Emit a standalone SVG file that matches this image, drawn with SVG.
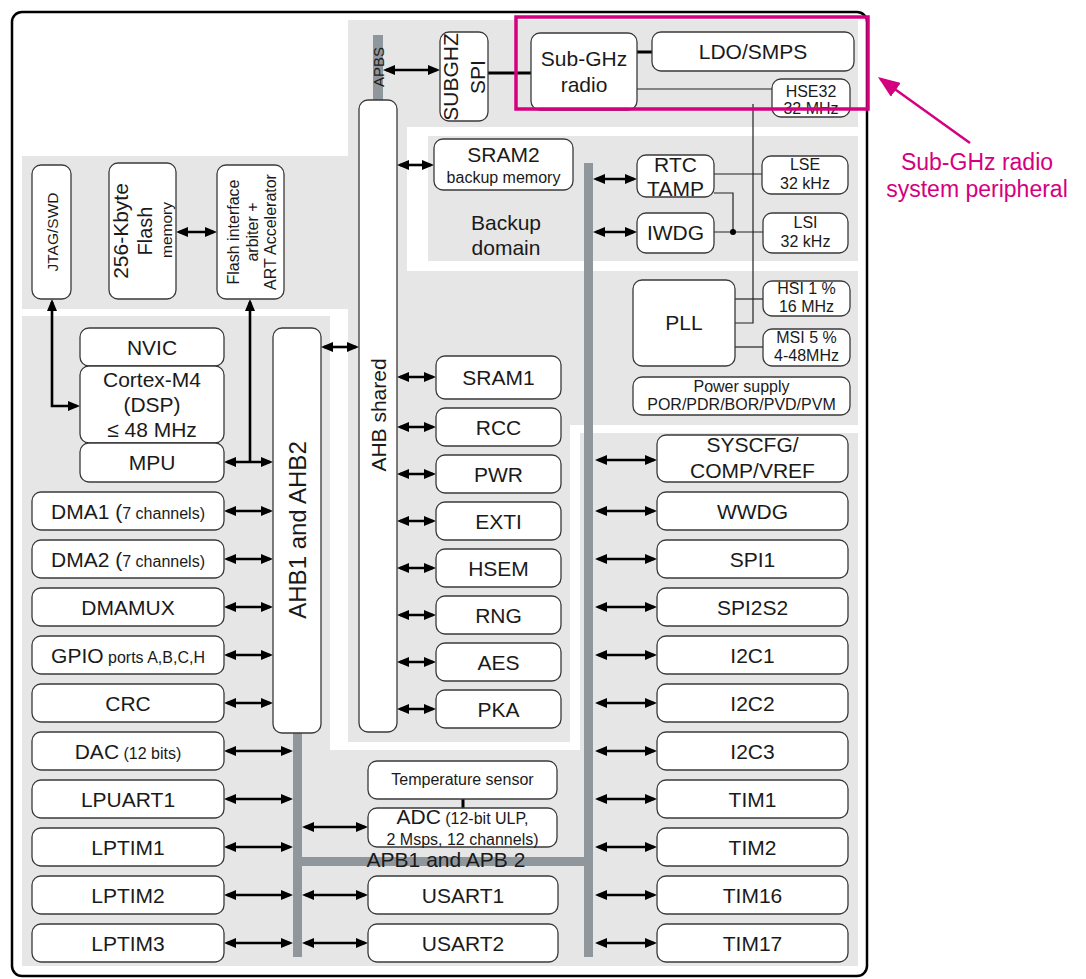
<svg xmlns="http://www.w3.org/2000/svg" width="1086" height="979" viewBox="0 0 1086 979">
<style>
.bg{fill:#e6e6e6}
.wh{fill:#ffffff}
.bus{fill:#8f979d}
.bx{fill:#ffffff;stroke:#3a3a3a;stroke-width:1.3}
text{font-family:"Liberation Sans",Arial,sans-serif;fill:#1a1a1a}
.t{font-size:21px;text-anchor:middle}
.s{font-size:16px;text-anchor:middle}
.da{fill:none;stroke:#000;stroke-width:2.6;marker-start:url(#ah);marker-end:url(#ah)}
.sa{fill:none;stroke:#000;stroke-width:2.6;marker-end:url(#ah)}
.tl{fill:none;stroke:#222;stroke-width:1.2}
.tk{fill:none;stroke:#000;stroke-width:3}
</style>
<defs>
<marker id="ah" markerUnits="userSpaceOnUse" markerWidth="12" markerHeight="10" viewBox="0 0 12 10" refX="9" refY="5" orient="auto-start-reverse">
<path d="M0,0 L12,5 L0,10 Z" fill="#000"/>
</marker>
<marker id="ph" markerUnits="userSpaceOnUse" markerWidth="22" markerHeight="17" viewBox="0 0 22 17" refX="19" refY="8.5" orient="auto">
<path d="M0,0 L22,8.5 L0,17 Z" fill="#d5007f"/>
</marker>
</defs>

<g id="background">
<rect class="bg" x="22" y="156" width="327" height="153"/>
<rect class="bg" x="22" y="316" width="308" height="650"/>
<rect class="bg" x="22" y="750" width="836" height="216"/>
<rect class="bg" x="580" y="433" width="278" height="533"/>
<rect class="bg" x="348" y="20" width="222" height="722"/>
<rect class="bg" x="348" y="20" width="510" height="107"/>
<rect class="bg" x="348" y="271" width="510" height="154"/>
<rect class="wh" x="407" y="127" width="451" height="144"/>
<rect class="bg" x="428" y="136" width="430" height="125"/>
</g>

<g id="frame">
<rect x="12" y="12" width="855" height="964" rx="10" fill="none" stroke="#000" stroke-width="2.5"/>
</g>

<g id="buses">
<rect class="bus" x="373" y="35" width="10" height="66"/>
<rect class="bus" x="293" y="732" width="9" height="225"/>
<rect class="bus" x="293" y="857" width="300" height="9"/>
<rect class="bus" x="584" y="163" width="9" height="794"/>
<text transform="translate(383.5,67) rotate(-90)" style="font-size:15px;text-anchor:middle">APBS</text>
<text class="t" x="446" y="867">APB1 and APB 2</text>
</g>

<g id="connectors">
<path class="da" d="M227 511 H270"/>
<path class="da" d="M227 559 H270"/>
<path class="da" d="M227 607 H270"/>
<path class="da" d="M227 655 H270"/>
<path class="da" d="M227 703 H270"/>
<path class="da" d="M227 462 H270"/>
<path class="sa" d="M250 462 V302"/>
<path class="da" d="M52 302 V406 H77"/>
<path class="da" d="M179 232 H214"/>
<path class="da" d="M227 751 H290"/>
<path class="da" d="M227 799 H290"/>
<path class="da" d="M227 847 H290"/>
<path class="da" d="M227 895 H290"/>
<path class="da" d="M227 943 H290"/>
<path class="da" d="M305 827 H365"/>
<path class="da" d="M305 895 H365"/>
<path class="da" d="M305 943 H365"/>
<path class="da" d="M324 347 H356"/>
<path class="da" d="M400 377 H433"/>
<path class="da" d="M400 427 H433"/>
<path class="da" d="M400 474 H433"/>
<path class="da" d="M400 521 H433"/>
<path class="da" d="M400 568 H433"/>
<path class="da" d="M400 615 H433"/>
<path class="da" d="M400 662 H433"/>
<path class="da" d="M400 709 H433"/>
<path class="da" d="M400 165 H431"/>
<path class="da" d="M386 70 H437"/>
<path class="da" d="M596 179 H634"/>
<path class="da" d="M596 232 H634"/>
<path class="da" d="M598 460 H654"/>
<path class="da" d="M598 511 H654"/>
<path class="da" d="M598 559 H654"/>
<path class="da" d="M598 607 H654"/>
<path class="da" d="M598 655 H654"/>
<path class="da" d="M598 703 H654"/>
<path class="da" d="M598 751 H654"/>
<path class="da" d="M598 799 H654"/>
<path class="da" d="M598 847 H654"/>
<path class="da" d="M598 895 H654"/>
<path class="da" d="M598 943 H654"/>
<path class="tl" d="M637 89 H772"/>
<path class="tl" d="M753 104 V323 H735"/>
<path class="tl" d="M714 174 H762"/>
<path class="tl" d="M714 193 H733 V232"/>
<path class="tl" d="M714 232 H763"/>
<path class="tl" d="M735 299 H763"/>
<path class="tl" d="M735 347 H763"/>
<circle cx="733" cy="232" r="3" fill="#000"/>
<path class="tk" d="M488 73 H531"/>
<path class="tk" d="M637 52 H652"/>
<path class="tk" d="M463 799 V808"/>
</g>

<g id="jtag"><rect class="bx" x="32" y="165" width="39" height="134" rx="9"/>
<text transform="translate(57.5,232) rotate(-90)" style="font-size:15.5px;text-anchor:middle">JTAG/SWD</text></g>
<g id="flash"><rect class="bx" x="109" y="163" width="67" height="136" rx="9"/>
<text transform="translate(127.5,231) rotate(-90)" style="font-size:21px;text-anchor:middle">256-Kbyte</text>
<text transform="translate(152,231) rotate(-90)" style="font-size:20px;text-anchor:middle">Flash</text>
<text transform="translate(172,230) rotate(-90)" style="font-size:15.5px;text-anchor:middle">memory</text></g>
<g id="flashif"><rect class="bx" x="217" y="165" width="67" height="134" rx="9"/>
<text transform="translate(239,232) rotate(-90)" class="s">Flash interface</text>
<text transform="translate(258,232) rotate(-90)" class="s">arbiter +</text>
<text transform="translate(276,232) rotate(-90)" class="s">ART Accelerator</text></g>

<g id="nvic"><rect class="bx" x="80" y="328" width="144" height="38" rx="9"/><text class="t" x="152" y="354.5">NVIC</text></g>
<g id="cortex"><rect class="bx" x="80" y="366" width="144" height="77" rx="9"/>
<text class="t" x="152" y="387">Cortex-M4</text><text class="t" x="152" y="412">(DSP)</text><text class="t" x="152" y="437">≤ 48 MHz</text></g>
<g id="mpu"><rect class="bx" x="80" y="443" width="144" height="39" rx="9"/><text class="t" x="152" y="470">MPU</text></g>

<g id="dma1"><rect class="bx" x="32" y="492" width="192" height="38" rx="9"/><text class="t" x="128" y="518.5">DMA1 (<tspan style="font-size:16px">7 channels)</tspan></text></g>
<g id="dma2"><rect class="bx" x="32" y="540" width="192" height="38" rx="9"/><text class="t" x="128" y="566.5">DMA2 (<tspan style="font-size:16px">7 channels)</tspan></text></g>
<g id="dmamux"><rect class="bx" x="32" y="588" width="192" height="38" rx="9"/><text class="t" x="128" y="614.5">DMAMUX</text></g>
<g id="gpio"><rect class="bx" x="32" y="636" width="192" height="38" rx="9"/><text class="t" x="128" y="662.5">GPIO<tspan style="font-size:16px"> ports A,B,C,H</tspan></text></g>
<g id="crc"><rect class="bx" x="32" y="684" width="192" height="38" rx="9"/><text class="t" x="128" y="710.5">CRC</text></g>
<g id="dac"><rect class="bx" x="32" y="732" width="192" height="38" rx="9"/><text class="t" x="128" y="758.5">DAC<tspan style="font-size:16px"> (12 bits)</tspan></text></g>
<g id="lpuart1"><rect class="bx" x="32" y="780" width="192" height="38" rx="9"/><text class="t" x="128" y="806.5">LPUART1</text></g>
<g id="lptim1"><rect class="bx" x="32" y="828" width="192" height="38" rx="9"/><text class="t" x="128" y="854.5">LPTIM1</text></g>
<g id="lptim2"><rect class="bx" x="32" y="876" width="192" height="38" rx="9"/><text class="t" x="128" y="902.5">LPTIM2</text></g>
<g id="lptim3"><rect class="bx" x="32" y="924" width="192" height="38" rx="9"/><text class="t" x="128" y="950.5">LPTIM3</text></g>

<g id="ahb12"><rect class="bx" x="273" y="328" width="48" height="405" rx="9"/>
<text transform="translate(305.5,530) rotate(-90)" style="font-size:24px;text-anchor:middle">AHB1 and AHB2</text></g>
<g id="ahbshared"><rect class="bx" x="359" y="100" width="38" height="632" rx="9"/>
<text transform="translate(385.5,415) rotate(-90)" class="t">AHB shared</text></g>

<g id="subghzspi"><rect class="bx" x="440" y="32" width="48" height="89" rx="9"/>
<text transform="translate(458,77) rotate(-90)" class="t">SUBGHZ</text>
<text transform="translate(485,77) rotate(-90)" class="t">SPI</text></g>
<g id="subghzradio"><rect class="bx" x="531" y="33" width="106" height="77" rx="9"/>
<text class="t" x="584" y="66">Sub-GHz</text><text class="t" x="584" y="92">radio</text></g>
<g id="ldo"><rect class="bx" x="652" y="32" width="202" height="39" rx="9"/><text class="t" x="753" y="59">LDO/SMPS</text></g>
<g id="hse32"><rect class="bx" x="772" y="79" width="78" height="38" rx="9"/>
<text class="s" x="811" y="97">HSE32</text><text class="s" x="811" y="114">32 MHz</text></g>

<g id="sram2"><rect class="bx" x="434" y="139" width="139" height="51" rx="9"/>
<text class="t" x="503.5" y="162">SRAM2</text><text class="s" x="503.5" y="183">backup memory</text></g>
<g id="backup"><text class="t" x="506" y="230">Backup</text><text class="t" x="506" y="255">domain</text></g>
<g id="rtc"><rect class="bx" x="637" y="155" width="77" height="42" rx="9"/>
<text class="t" x="675.5" y="172">RTC</text><text class="t" x="675.5" y="196">TAMP</text></g>
<g id="iwdg"><rect class="bx" x="637" y="213" width="77" height="40" rx="9"/><text class="t" x="675.5" y="240">IWDG</text></g>
<g id="lse"><rect class="bx" x="762" y="156" width="86" height="38" rx="9"/>
<text class="s" x="805" y="170">LSE</text><text class="s" x="805" y="189">32 kHz</text></g>
<g id="lsi"><rect class="bx" x="763" y="213" width="85" height="40" rx="9"/>
<text class="s" x="805.5" y="228">LSI</text><text class="s" x="805.5" y="247">32 kHz</text></g>

<g id="pll"><rect class="bx" x="633" y="280" width="102" height="86" rx="9"/><text class="t" x="684" y="330">PLL</text></g>
<g id="hsi"><rect class="bx" x="763" y="281" width="87" height="35" rx="9"/>
<text class="s" x="806.5" y="294">HSI 1 %</text><text class="s" x="806.5" y="312">16 MHz</text></g>
<g id="msi"><rect class="bx" x="763" y="329" width="87" height="37" rx="9"/>
<text class="s" x="806.5" y="343">MSI 5 %</text><text class="s" x="806.5" y="361">4-48MHz</text></g>
<g id="power"><rect class="bx" x="633" y="377" width="217" height="38" rx="9"/>
<text class="s" x="741.5" y="392">Power supply</text><text class="s" x="741.5" y="410">POR/PDR/BOR/PVD/PVM</text></g>

<g id="sram1"><rect class="bx" x="436" y="356" width="125" height="43" rx="9"/><text class="t" x="498.5" y="385">SRAM1</text></g>
<g id="rcc"><rect class="bx" x="436" y="408" width="125" height="38" rx="9"/><text class="t" x="498.5" y="434.5">RCC</text></g>
<g id="pwr"><rect class="bx" x="436" y="455" width="125" height="38" rx="9"/><text class="t" x="498.5" y="481.5">PWR</text></g>
<g id="exti"><rect class="bx" x="436" y="502" width="125" height="38" rx="9"/><text class="t" x="498.5" y="528.5">EXTI</text></g>
<g id="hsem"><rect class="bx" x="436" y="549" width="125" height="38" rx="9"/><text class="t" x="498.5" y="575.5">HSEM</text></g>
<g id="rng"><rect class="bx" x="436" y="596" width="125" height="38" rx="9"/><text class="t" x="498.5" y="622.5">RNG</text></g>
<g id="aes"><rect class="bx" x="436" y="643" width="125" height="38" rx="9"/><text class="t" x="498.5" y="669.5">AES</text></g>
<g id="pka"><rect class="bx" x="436" y="690" width="125" height="38" rx="9"/><text class="t" x="498.5" y="716.5">PKA</text></g>

<g id="syscfg"><rect class="bx" x="657" y="435" width="191" height="47" rx="9"/>
<text class="t" x="752.5" y="452">SYSCFG/</text><text class="t" x="752.5" y="478">COMP/VREF</text></g>
<g id="wwdg"><rect class="bx" x="657" y="492" width="191" height="38" rx="9"/><text class="t" x="752.5" y="518.5">WWDG</text></g>
<g id="spi1"><rect class="bx" x="657" y="540" width="191" height="38" rx="9"/><text class="t" x="752.5" y="566.5">SPI1</text></g>
<g id="spi2s2"><rect class="bx" x="657" y="588" width="191" height="38" rx="9"/><text class="t" x="752.5" y="614.5">SPI2S2</text></g>
<g id="i2c1"><rect class="bx" x="657" y="636" width="191" height="38" rx="9"/><text class="t" x="752.5" y="662.5">I2C1</text></g>
<g id="i2c2"><rect class="bx" x="657" y="684" width="191" height="38" rx="9"/><text class="t" x="752.5" y="710.5">I2C2</text></g>
<g id="i2c3"><rect class="bx" x="657" y="732" width="191" height="38" rx="9"/><text class="t" x="752.5" y="758.5">I2C3</text></g>
<g id="tim1"><rect class="bx" x="657" y="780" width="191" height="38" rx="9"/><text class="t" x="752.5" y="806.5">TIM1</text></g>
<g id="tim2"><rect class="bx" x="657" y="828" width="191" height="38" rx="9"/><text class="t" x="752.5" y="854.5">TIM2</text></g>
<g id="tim16"><rect class="bx" x="657" y="876" width="191" height="38" rx="9"/><text class="t" x="752.5" y="902.5">TIM16</text></g>
<g id="tim17"><rect class="bx" x="657" y="924" width="191" height="38" rx="9"/><text class="t" x="752.5" y="950.5">TIM17</text></g>

<g id="tempsensor"><rect class="bx" x="368" y="761" width="189" height="38" rx="9"/><text class="s" x="462.5" y="785">Temperature sensor</text></g>
<g id="adc"><rect class="bx" x="368" y="808" width="189" height="39" rx="9"/>
<text class="t" x="462.5" y="824">ADC<tspan style="font-size:16px"> (12-bit ULP,</tspan></text>
<text class="s" x="462.5" y="845">2 Msps, 12 channels)</text></g>
<g id="usart1"><rect class="bx" x="368" y="876" width="190" height="38" rx="9"/><text class="t" x="463" y="902.5">USART1</text></g>
<g id="usart2"><rect class="bx" x="368" y="924" width="190" height="38" rx="9"/><text class="t" x="463" y="950.5">USART2</text></g>

<g id="annotation">
<rect x="516" y="17" width="352" height="92" fill="none" stroke="#d5007f" stroke-width="3.5"/>
<line x1="970" y1="143" x2="880.4" y2="78.8" stroke="#d5007f" stroke-width="2.5" marker-end="url(#ph)"/>
<text x="977" y="170" style="font-size:23px;text-anchor:middle;fill:#d5007f">Sub-GHz radio</text>
<text x="977" y="197" style="font-size:23px;text-anchor:middle;fill:#d5007f">system peripheral</text>
</g>
</svg>
